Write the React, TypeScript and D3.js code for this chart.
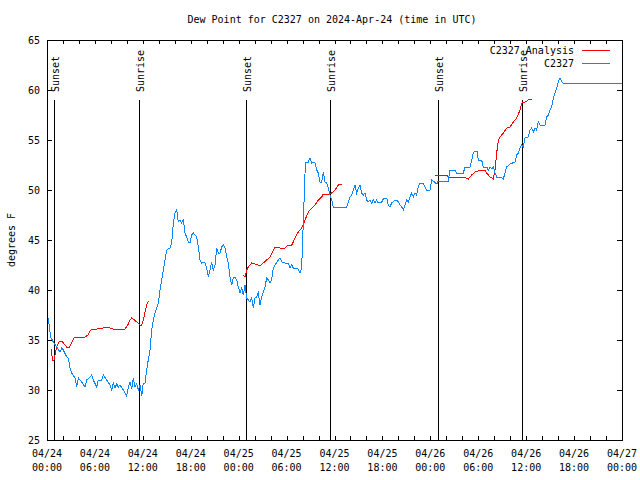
import React from "react";
import * as d3 from "d3";

const TITLE = "Dew Point for C2327 on 2024-Apr-24 (time in UTC)";
const Y_LABEL = "degrees F";
const START = Date.UTC(2024, 3, 24, 0, 0);
const X_DOMAIN_HOURS = [0, 72];
const Y_DOMAIN = [25, 65];
const Y_TICKS = [25, 30, 35, 40, 45, 50, 55, 60, 65];

// Observed C2327 series: hours since 04/24 00:00 UTC, dew point (F)
const obsHours = [
  0.16, 0.46, 0.79, 1.21, 1.63, 1.84, 2.04, 2.47, 2.67, 2.88, 3.09, 3.51, 3.72, 3.92, 4.35, 4.76, 4.97, 5.38, 5.6, 5.8,
  6.22, 6.42, 6.85, 7.05, 7.48, 7.89, 8.1, 8.3, 8.51, 8.73, 8.93, 9.14, 9.55, 9.98, 10.18, 10.39, 10.61, 10.81, 11.02, 11.23,
  11.43, 11.65, 11.86, 12.06, 12.27, 12.48, 12.68, 12.9, 13.11, 13.31, 13.52, 13.94, 14.15, 14.36, 14.56, 14.78, 14.99, 15.4, 15.61, 15.82,
  16.03, 16.24, 16.44, 16.65, 16.86, 17.07, 17.28, 17.49, 17.69, 17.91, 18.12, 18.32, 18.75, 18.95, 19.16, 19.37, 19.57, 19.78, 20.0, 20.2,
  20.41, 20.62, 20.82, 21.04, 21.25, 21.45, 21.66, 21.88, 22.08, 22.29, 22.5, 22.7, 22.92, 23.13, 23.33, 23.54, 23.75, 23.96, 24.17, 24.38,
  24.58, 24.79, 25.01, 25.21, 25.42, 25.63, 25.83, 26.04, 26.25, 26.45, 26.67, 26.88, 27.08, 27.29, 27.51, 27.71, 27.92, 28.13, 28.34, 28.55,
  28.96, 29.18, 29.39, 29.8, 30.22, 30.43, 30.64, 30.84, 31.47, 31.68, 31.89, 32.09, 32.31, 32.43, 32.72, 32.93, 33.15, 33.35, 33.56, 33.77,
  33.97, 34.18, 34.4, 34.6, 34.81, 35.02, 35.22, 35.44, 35.65, 35.85, 37.53, 37.73, 37.94, 38.15, 38.35, 38.57, 38.78, 38.98, 39.19, 39.4,
  39.61, 39.82, 40.03, 40.23, 40.45, 40.66, 40.86, 41.07, 41.28, 41.48, 41.7, 41.91, 42.11, 42.54, 42.74, 42.95, 43.16, 43.57, 43.79, 43.99,
  44.2, 44.42, 44.62, 44.83, 45.04, 45.24, 45.45, 45.66, 45.87, 46.08, 46.29, 46.49, 46.71, 47.12, 47.33, 47.54, 47.96, 48.17, 48.38, 48.8,
  49.0, 50.25, 50.46, 51.09, 51.3, 52.13, 52.34, 52.97, 53.18, 53.38, 53.59, 53.84, 54.01, 54.43, 54.63, 54.85, 55.06, 55.26, 55.47, 55.69,
  55.89, 56.1, 56.31, 56.72, 57.14, 57.35, 57.56, 57.98, 58.6, 58.82, 59.02, 59.23, 59.44, 59.64, 59.86, 60.27, 60.48, 60.69, 60.9, 61.11,
  61.32, 61.52, 61.73, 62.36, 62.57, 62.77, 62.99, 63.2, 63.4, 63.61, 63.82, 64.02, 64.24, 64.45, 64.65, 72.0,
];
const obsValues = [
  37.2, 35.3, 34.8, 34.3, 33.8, 34.2, 34.0, 33.3, 33.2, 32.2, 31.7, 31.2, 30.3, 31.2, 30.8, 30.3, 31.0, 31.3, 31.5, 31.0,
  30.3, 31.0, 31.0, 31.5, 31.0, 30.5, 30.0, 30.7, 30.2, 30.6, 30.3, 30.5, 30.0, 29.4, 30.3, 30.8, 30.1, 31.2, 30.3, 30.6,
  30.0, 30.5, 29.4, 30.7, 30.7, 32.0, 33.0, 34.0, 36.0, 37.0, 37.7, 38.7, 40.0, 41.0, 42.0, 43.0, 44.0, 44.2, 44.7, 46.7,
  47.7, 48.0, 46.8, 47.0, 46.7, 47.0, 45.7, 45.3, 44.8, 44.7, 45.5, 45.7, 45.3, 44.3, 43.0, 42.7, 42.8, 42.7, 42.2, 41.3,
  42.0, 42.8, 42.0, 42.5, 44.2, 43.7, 43.7, 44.3, 44.5, 44.2, 43.3, 42.7, 41.3, 40.5, 41.2, 41.3, 41.0, 40.3, 39.7, 40.2,
  39.5, 40.5, 39.2, 39.0, 38.8, 39.2, 38.2, 39.2, 39.3, 39.7, 38.5, 39.3, 39.8, 40.3, 41.2, 41.0, 40.7, 41.0, 42.2, 42.5,
  43.0, 43.2, 42.8, 42.7, 42.7, 42.2, 42.5, 42.2, 42.1, 41.7, 42.2, 46.7, 51.7, 52.8, 52.8, 53.2, 52.7, 52.8, 52.7, 52.0,
  51.7, 50.8, 50.8, 51.8, 50.8, 50.7, 50.2, 49.5, 49.0, 48.3, 48.3, 48.8, 49.3, 49.5, 50.0, 50.5, 49.7, 50.2, 50.5, 49.7,
  49.5, 49.7, 49.0, 48.8, 49.0, 48.7, 49.0, 48.7, 49.0, 48.7, 48.8, 48.8, 49.1, 49.2, 48.5, 48.3, 48.7, 49.0, 49.0, 48.8,
  48.5, 48.3, 48.0, 48.5, 49.0, 48.8, 49.3, 49.7, 49.3, 49.7, 49.5, 50.3, 50.7, 50.7, 50.3, 50.0, 50.0, 51.0, 50.9, 50.6,
  50.9, 50.9, 52.0, 52.0, 51.7, 51.7, 52.3, 52.3, 53.0, 53.7, 53.9, 53.9, 53.0, 53.0, 52.3, 52.2, 52.3, 52.0, 52.3, 52.1,
  52.3, 51.7, 51.3, 51.3, 51.1, 51.7, 52.3, 52.6, 52.8, 53.5, 53.7, 54.2, 54.5, 54.3, 55.2, 55.3, 56.0, 56.2, 55.8, 56.2,
  56.0, 56.8, 56.5, 56.5, 57.3, 57.5, 58.0, 58.3, 59.2, 59.7, 60.2, 60.8, 61.2, 60.8, 60.7, 60.7,
];

// Analysis series (three separate runs; null = gap)
const anaHours = [
  0.5, 0.71, 0.88, 1.0, 1.21, 1.41, 1.63, 1.84, 2.25, 2.47, 2.79, 3.09, 3.29, 3.51, 4.13, 4.76, 5.17, 5.38, 5.6, 6.22,
  7.05, 7.48, 8.3, 9.77, 10.18, 10.39, 10.61, 10.81, 11.23, 11.65, 11.86, 12.06, 12.27, 12.48, 12.68, 12.81, 18.0,
  24.58, 24.79, 25.01, 25.21, 25.63, 26.04, 26.45, 26.67, 27.08, 27.51, 27.92, 28.34, 28.55, 28.96, 29.39, 29.8, 30.22, 30.64, 30.84, 31.05,
  31.47, 31.89, 32.31, 32.72, 33.15, 33.56, 33.97, 34.4, 34.6, 35.44, 35.65, 36.06, 36.48, 36.9, 42.0,
  48.59, 50.05, 50.25, 50.88, 51.51, 52.13, 52.76, 53.18, 53.59, 54.43, 54.85, 55.06, 55.47, 55.69, 55.89, 56.1, 56.31, 56.52, 56.72, 57.14,
  57.56, 57.98, 58.39, 58.82, 59.23, 59.44, 59.86, 60.27, 60.69,
];
const anaValues: (number | null)[] = [
  34.1, 33.0, 33.0, 33.5, 34.3, 34.7, 34.9, 34.9, 34.5, 34.3, 34.3, 34.7, 35.1, 35.3, 35.3, 35.3, 35.5, 35.9, 36.1, 36.1,
  36.2, 36.3, 36.1, 36.1, 36.6, 37.0, 37.2, 37.1, 36.8, 36.5, 36.5, 37.0, 37.8, 38.5, 38.9, 38.9, null,
  41.5, 41.3, 42.0, 42.3, 42.7, 42.6, 42.5, 42.4, 42.7, 43.0, 43.3, 44.0, 44.3, 44.3, 44.1, 44.2, 44.5, 44.5, 44.8, 45.2,
  45.8, 46.2, 47.0, 47.8, 48.2, 48.5, 49.0, 49.3, 49.6, 49.6, 49.7, 50.0, 50.5, 50.6, null,
  51.5, 51.5, 51.3, 51.2, 51.3, 51.3, 51.1, 51.5, 51.8, 52.0, 52.0, 51.7, 51.3, 51.2, 51.1, 52.0, 53.7, 55.0, 55.3, 55.7,
  56.2, 56.3, 56.8, 57.2, 58.0, 58.7, 58.8, 59.0, 59.1,
];

const sunLabels = ["Sunset", "Sunrise", "Sunset", "Sunrise", "Sunset", "Sunrise"];
const sunHours = [0.91, 11.52, 24.92, 35.44, 48.96, 59.48];

const seriesNames = ["C2327 Analysis", "C2327"];
const seriesColors = ["#ff0000", "#0a84ff"];

const FONT = "'DejaVu Sans Mono', 'Liberation Mono', monospace";

export default function App() {
  const W = 640, H = 480;
  const L = 47, R = 622, T = 40, B = 440;
  const toDate = (h: number) => new Date(START + h * 3600 * 1000);
  const x = d3.scaleUtc().domain(X_DOMAIN_HOURS.map(toDate)).range([L, R]);
  const y = d3.scaleLinear().domain(Y_DOMAIN).range([B, T]);

  const obs = obsHours.map((h, i) => ({ t: toDate(h), v: obsValues[i] as number | null }));
  const ana = anaHours.map((h, i) => ({ t: toDate(h), v: anaValues[i] }));
  const line = d3
    .line<{ t: Date; v: number | null }>()
    .defined((d) => d.v != null)
    .x((d) => x(d.t))
    .y((d) => y(d.v as number));

  const minorTicks = x.ticks(d3.utcHour.every(2) as any);
  const labelTicks = x.ticks(d3.utcHour.every(6) as any);
  const fmtDay = d3.utcFormat("%m/%d");
  const fmtTime = d3.utcFormat("%H:%M");
  const px = (v: number) => Math.round(v) + 0.5;

  return (
    <svg width={W} height={H} style={{ position: "absolute", left: 0, top: 0, background: "#fff" }} fontFamily={FONT} fontSize={10}>
      <rect x={0} y={0} width={W} height={H} fill="#fff" />
      <text x={332} y={23} textAnchor="middle">{TITLE}</text>
      <text transform={`translate(15,${(T + B) / 2}) rotate(-90)`} textAnchor="middle">{Y_LABEL}</text>

      {/* y ticks */}
      {Y_TICKS.map((v) => (
        <g key={v}>
          <line x1={L} x2={L + 5} y1={px(y(v))} y2={px(y(v))} stroke="#000" shapeRendering="crispEdges" />
          <line x1={R - 5} x2={R} y1={px(y(v))} y2={px(y(v))} stroke="#000" shapeRendering="crispEdges" />
          <text x={L - 7} y={y(v) + 4} textAnchor="end">{v}</text>
        </g>
      ))}
      {/* x ticks */}
      {minorTicks.map((d, i) => (
        <g key={i}>
          <line x1={px(x(d))} x2={px(x(d))} y1={B} y2={B - 4} stroke="#000" shapeRendering="crispEdges" />
          <line x1={px(x(d))} x2={px(x(d))} y1={T} y2={T + 4} stroke="#000" shapeRendering="crispEdges" />
        </g>
      ))}
      {labelTicks.map((d, i) => (
        <g key={i}>
          <text x={x(d)} y={457} textAnchor="middle">{fmtDay(d)}</text>
          <text x={x(d)} y={471} textAnchor="middle">{fmtTime(d)}</text>
        </g>
      ))}

      {/* sun events */}
      {sunHours.map((h, i) => {
        const sx = px(x(toDate(h)));
        return (
          <g key={i}>
            <line x1={sx} x2={sx} y1={100} y2={B} stroke="#000" shapeRendering="crispEdges" />
            <text transform={`translate(${sx + 4},92) rotate(-90)`} textAnchor="start">{sunLabels[i]}</text>
          </g>
        );
      })}

      {/* data */}
      <path d={line(ana) || ""} fill="none" stroke={seriesColors[0]} strokeWidth={1} shapeRendering="crispEdges" />
      <path d={line(obs) || ""} fill="none" stroke={seriesColors[1]} strokeWidth={1} shapeRendering="crispEdges" />

      {/* legend */}
      {seriesNames.map((n, i) => (
        <g key={n}>
          <text x={574} y={54 + i * 13} textAnchor="end">{n}</text>
          <line x1={582} x2={610} y1={50.5 + i * 13} y2={50.5 + i * 13} stroke={seriesColors[i]} shapeRendering="crispEdges" />
        </g>
      ))}

      {/* frame */}
      <rect x={L + 0.5} y={T + 0.5} width={R - L} height={B - T} fill="none" stroke="#000" shapeRendering="crispEdges" />
    </svg>
  );
}
